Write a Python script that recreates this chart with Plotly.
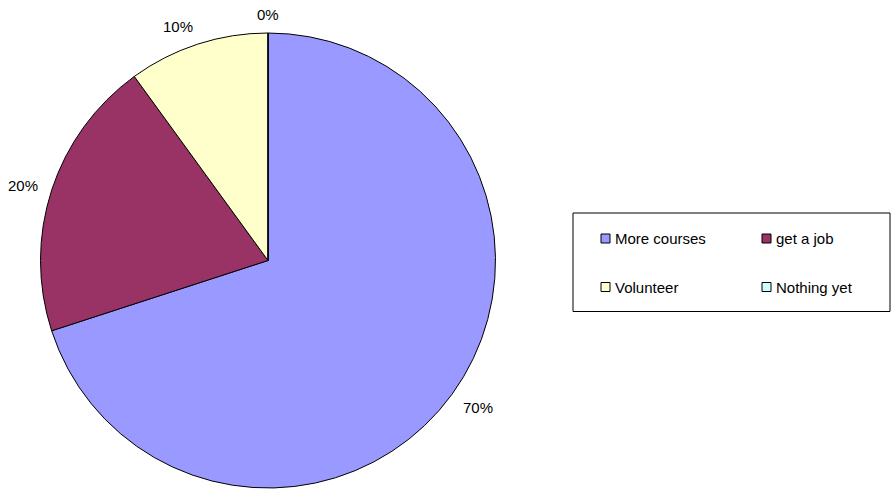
import math
import plotly.graph_objects as go

# Survey answers: what respondents plan to do next
categories = ["More courses", "get a job", "Volunteer", "Nothing yet"]
shares = [70, 20, 10, 0]
colors = ["#9999FF", "#993366", "#FFFFCC", "#CCFFFF"]

W, H = 891, 489
FONT = "Liberation Sans, Arial, sans-serif"
FS = 15

# Pie box in pixels (left, right, top, bottom)
PIE_L, PIE_R, PIE_T, PIE_B = 40, 496, 33, 488

fig = go.Figure()
fig.add_trace(go.Pie(
    labels=categories,
    values=shares,
    sort=False,
    direction="clockwise",
    rotation=0,
    marker=dict(colors=colors, line=dict(color="black", width=1)),
    textinfo="none",
    hoverinfo="label+percent",
    showlegend=False,
    domain=dict(x=[PIE_L / W, PIE_R / W], y=[1 - PIE_B / H, 1 - PIE_T / H]),
))


def px(x):
    return x / W


def py(y):
    return 1 - y / H


annotations = []

# Percentage labels sit just outside the rim at each slice's mid-angle:
# left-side labels end at the anchor point, right-side labels start there
cx = (PIE_L + PIE_R) / 2
cy = (PIE_T + PIE_B) / 2
radius = min(PIE_R - PIE_L, PIE_B - PIE_T) / 2
gap = 14
total = sum(shares)
start = 0.0
for v in shares:
    frac = v / total
    mid = (start + frac / 2) * 2 * math.pi
    start += frac
    label = f"{round(frac * 100)}%"
    half_w = 0.5 * FS * (0.556 * (len(label) - 1) + 0.889)
    half_h = 6.0
    ux, uy = math.sin(mid), -math.cos(mid)
    side = 0 if abs(ux) < 0.05 else math.copysign(1, ux)
    lx = cx + ux * (radius + gap) + side * half_w
    ly = cy + uy * (radius + gap) + uy * half_h + 1.5
    annotations.append(dict(text=label, xref="paper", yref="paper",
                            x=px(lx), y=py(ly),
                            xanchor="center", yanchor="middle", showarrow=False,
                            font=dict(family=FONT, size=FS, color="black")))

# Boxed two-column key on the right
shapes = [dict(type="rect", xref="paper", yref="paper",
               x0=px(573), x1=px(890), y0=py(311.5), y1=py(213),
               line=dict(color="black", width=1), fillcolor="white")]
slots = [(601, 238.5), (762, 238.5), (601, 287), (762, 287)]
for name, col, (sx, sy) in zip(categories, colors, slots):
    shapes.append(dict(type="rect", xref="paper", yref="paper",
                       x0=px(sx), x1=px(sx + 9), y0=py(sy + 4.5), y1=py(sy - 4.5),
                       line=dict(color="black", width=1), fillcolor=col))
    annotations.append(dict(text=name, xref="paper", yref="paper",
                            x=px(sx + 12), y=py(sy), xanchor="left", yanchor="middle",
                            showarrow=False,
                            font=dict(family=FONT, size=FS, color="black")))

fig.update_layout(
    width=W, height=H,
    margin=dict(l=0, r=0, t=0, b=0),
    paper_bgcolor="white",
    plot_bgcolor="white",
    shapes=shapes,
    annotations=annotations,
)

fig.write_html("out.html")
